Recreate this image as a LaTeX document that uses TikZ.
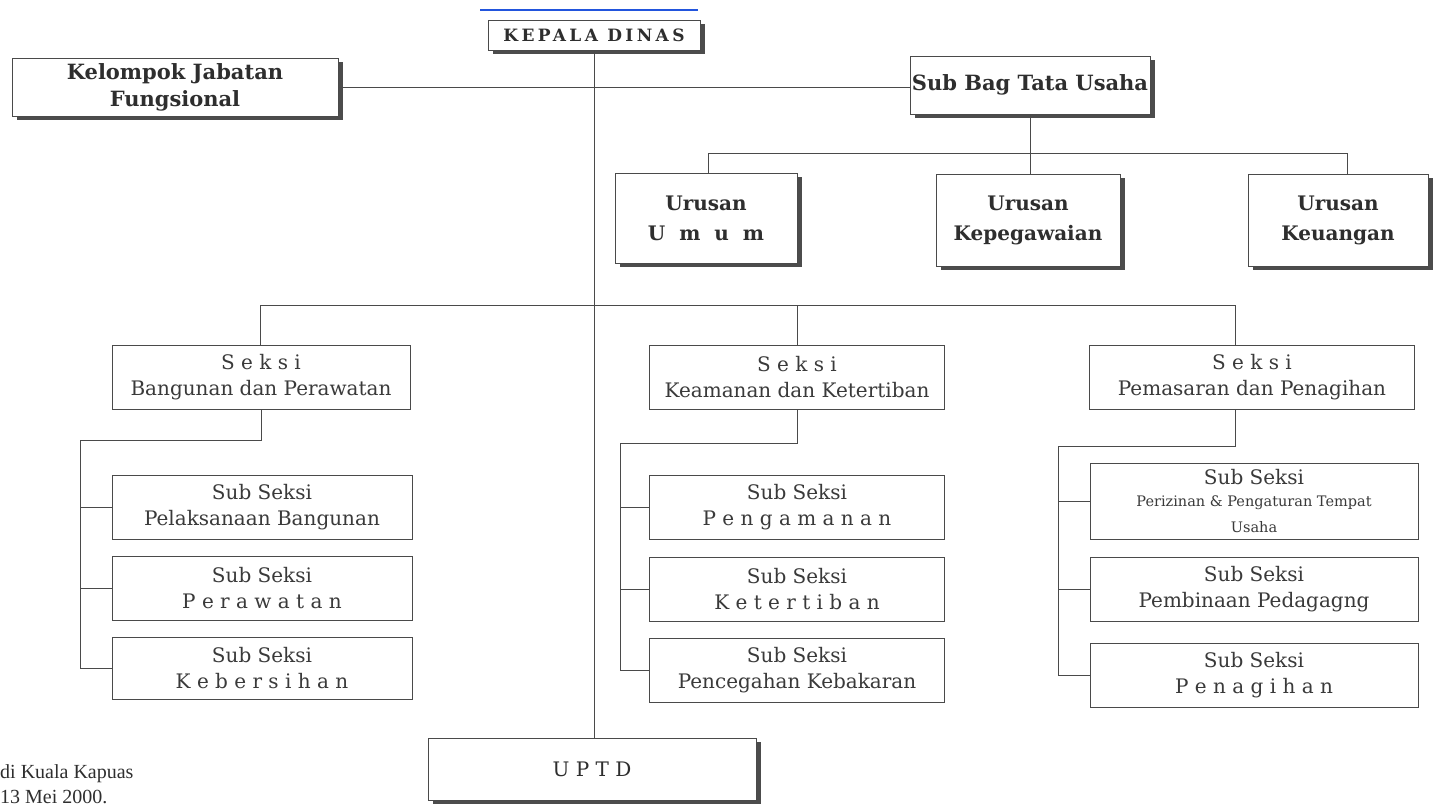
\documentclass[tikz,border=0pt]{standalone}
\usepackage{fontspec}
\setmainfont{Liberation Serif}
\newfontfamily\slab{DejaVu Serif}
\newfontfamily\dv{DejaVu Serif}
\usetikzlibrary{shadows}
\definecolor{ln}{HTML}{4A4A4A}
\definecolor{tx}{HTML}{2E2E2E}
\definecolor{lt}{HTML}{3A3A3A}
\definecolor{sh}{HTML}{4C4C4C}
\definecolor{bl}{HTML}{2255DD}
\begin{document}
\begin{tikzpicture}[x=1pt,y=-1pt,
  topbox/.style={draw=ln, line width=1pt, fill=white, align=center, text=tx,
    font=\slab\bfseries\fontsize{21}{27}\selectfont, inner sep=0pt,
    drop shadow={shadow xshift=5pt, shadow yshift=-4pt, fill=sh, opacity=1}},
  lowbox/.style={draw=ln, line width=0.9pt, fill=white, align=center, text=lt,
    font=\dv\fontsize{20}{26}\selectfont, inner sep=0pt},
  conn/.style={draw=ln, line width=0.9pt},
  note/.style={anchor=west, text=tx, inner sep=0pt, font=\fontsize{20}{23}\selectfont}]
\useasboundingbox (0,0) rectangle (1433,809);

% top level
\node[topbox, minimum width=212pt, minimum height=30pt, font=\slab\bfseries\fontsize{17}{20}\selectfont\addfontfeature{LetterSpace=20}] (kd) at (594,35) {KEPALA DINAS};
\coordinate (bla) at (480,10);
\coordinate (blb) at (698,10);
\draw[bl, line width=1.5pt] (bla) -- (blb);

\node[topbox, minimum width=326pt, minimum height=58pt] (kjf) at (175,87) {Kelompok Jabatan\\Fungsional};
\node[topbox, minimum width=240pt, minimum height=58pt] (sbtu) at (1030,85) {Sub Bag Tata Usaha};

\node[topbox, minimum width=182pt, minimum height=90pt, font=\slab\bfseries\fontsize{20}{30}\selectfont] (uu) at (706,218) {Urusan\\U\ \ m\ \ u\ \ m};
\node[topbox, minimum width=184pt, minimum height=92pt, font=\slab\bfseries\fontsize{20}{30}\selectfont] (uk) at (1028,220) {Urusan\\Kepegawaian};
\node[topbox, minimum width=180pt, minimum height=92pt, font=\slab\bfseries\fontsize{20}{30}\selectfont] (ukeu) at (1338,220) {Urusan\\Keuangan};

% seksi
\node[lowbox, minimum width=298pt, minimum height=64pt] (s1) at (261,377) {S e k s i\\Bangunan dan Perawatan};
\node[lowbox, minimum width=295pt, minimum height=64pt] (s2) at (797,377) {S e k s i\\Keamanan dan Ketertiban};
\node[lowbox, minimum width=325pt, minimum height=64pt] (s3) at (1252,377) {S e k s i\\Pemasaran dan Penagihan};

% sub seksi left
\node[lowbox, minimum width=300pt, minimum height=64pt] (a1) at (262,507) {Sub Seksi\\Pelaksanaan Bangunan};
\node[lowbox, minimum width=300pt, minimum height=64pt] (a2) at (262,588) {Sub Seksi\\P e r a w a t a n};
\node[lowbox, minimum width=300pt, minimum height=62pt] (a3) at (262,668) {Sub Seksi\\K e b e r s i h a n};

% sub seksi middle
\node[lowbox, minimum width=295pt, minimum height=64pt] (m1) at (797,507) {Sub Seksi\\P e n g a m a n a n};
\node[lowbox, minimum width=295pt, minimum height=64pt] (m2) at (797,589) {Sub Seksi\\K e t e r t i b a n};
\node[lowbox, minimum width=295pt, minimum height=64pt] (m3) at (797,670) {Sub Seksi\\Pencegahan Kebakaran};

% sub seksi right
\node[lowbox, minimum width=328pt, minimum height=76pt] (r1) at (1254,501) {Sub Seksi\\[-4pt]{\fontsize{14.5}{19}\selectfont Perizinan \& Pengaturan Tempat}\\{\fontsize{14.5}{17}\selectfont Usaha}};
\node[lowbox, minimum width=328pt, minimum height=64pt] (r2) at (1254,589) {Sub Seksi\\Pembinaan Pedagagng};
\node[lowbox, minimum width=328pt, minimum height=64pt] (r3) at (1254,675) {Sub Seksi\\P e n a g i h a n};

% UPTD
\node[topbox, minimum width=328pt, minimum height=62pt, font=\dv\fontsize{20}{24}\selectfont] (uptd) at (592,769) {U P T D};

% notes
\node[note] (n1) at (0,774) {di Kuala Kapuas};
\node[note] (n2) at (0,797) {13 Mei 2000.};

% connectors
\draw[conn] (kd.south) -- (kd.south |- uptd.north);
\draw[conn] (kjf.east) -- (kjf.east -| sbtu.west);
\coordinate (ub) at (1030,153);
\draw[conn] (sbtu.south) -- (ub);
\coordinate (ul) at (708,153);
\coordinate (ur) at (1347,153);
\draw[conn] (ul) -- (ur);
\draw[conn] (ul) -- (ul |- uu.north);
\draw[conn] (ub) -- (ub |- uk.north);
\draw[conn] (ur) -- (ur |- ukeu.north);

\coordinate (sl) at (260,305);
\coordinate (sm) at (797,305);
\coordinate (sr) at (1235,305);
\draw[conn] (sl) -- (sr);
\draw[conn] (sl) -- (sl |- s1.north);
\draw[conn] (sm) -- (sm |- s2.north);
\draw[conn] (sr) -- (sr |- s3.north);

\coordinate (la) at (80,440);
\draw[conn] (s1.south) |- (la);
\draw[conn] (la) |- (a3.west);
\draw[conn] (la |- a1.west) -- (a1.west);
\draw[conn] (la |- a2.west) -- (a2.west);

\coordinate (ma) at (620,443);
\draw[conn] (s2.south) |- (ma);
\draw[conn] (ma) |- (m3.west);
\draw[conn] (ma |- m1.west) -- (m1.west);
\draw[conn] (ma |- m2.west) -- (m2.west);

\coordinate (ra) at (1058,446);
\draw[conn] (s3.south -| sr) |- (ra);
\draw[conn] (ra) |- (r3.west);
\draw[conn] (ra |- r1.west) -- (r1.west);
\draw[conn] (ra |- r2.west) -- (r2.west);
\end{tikzpicture}
\end{document}
